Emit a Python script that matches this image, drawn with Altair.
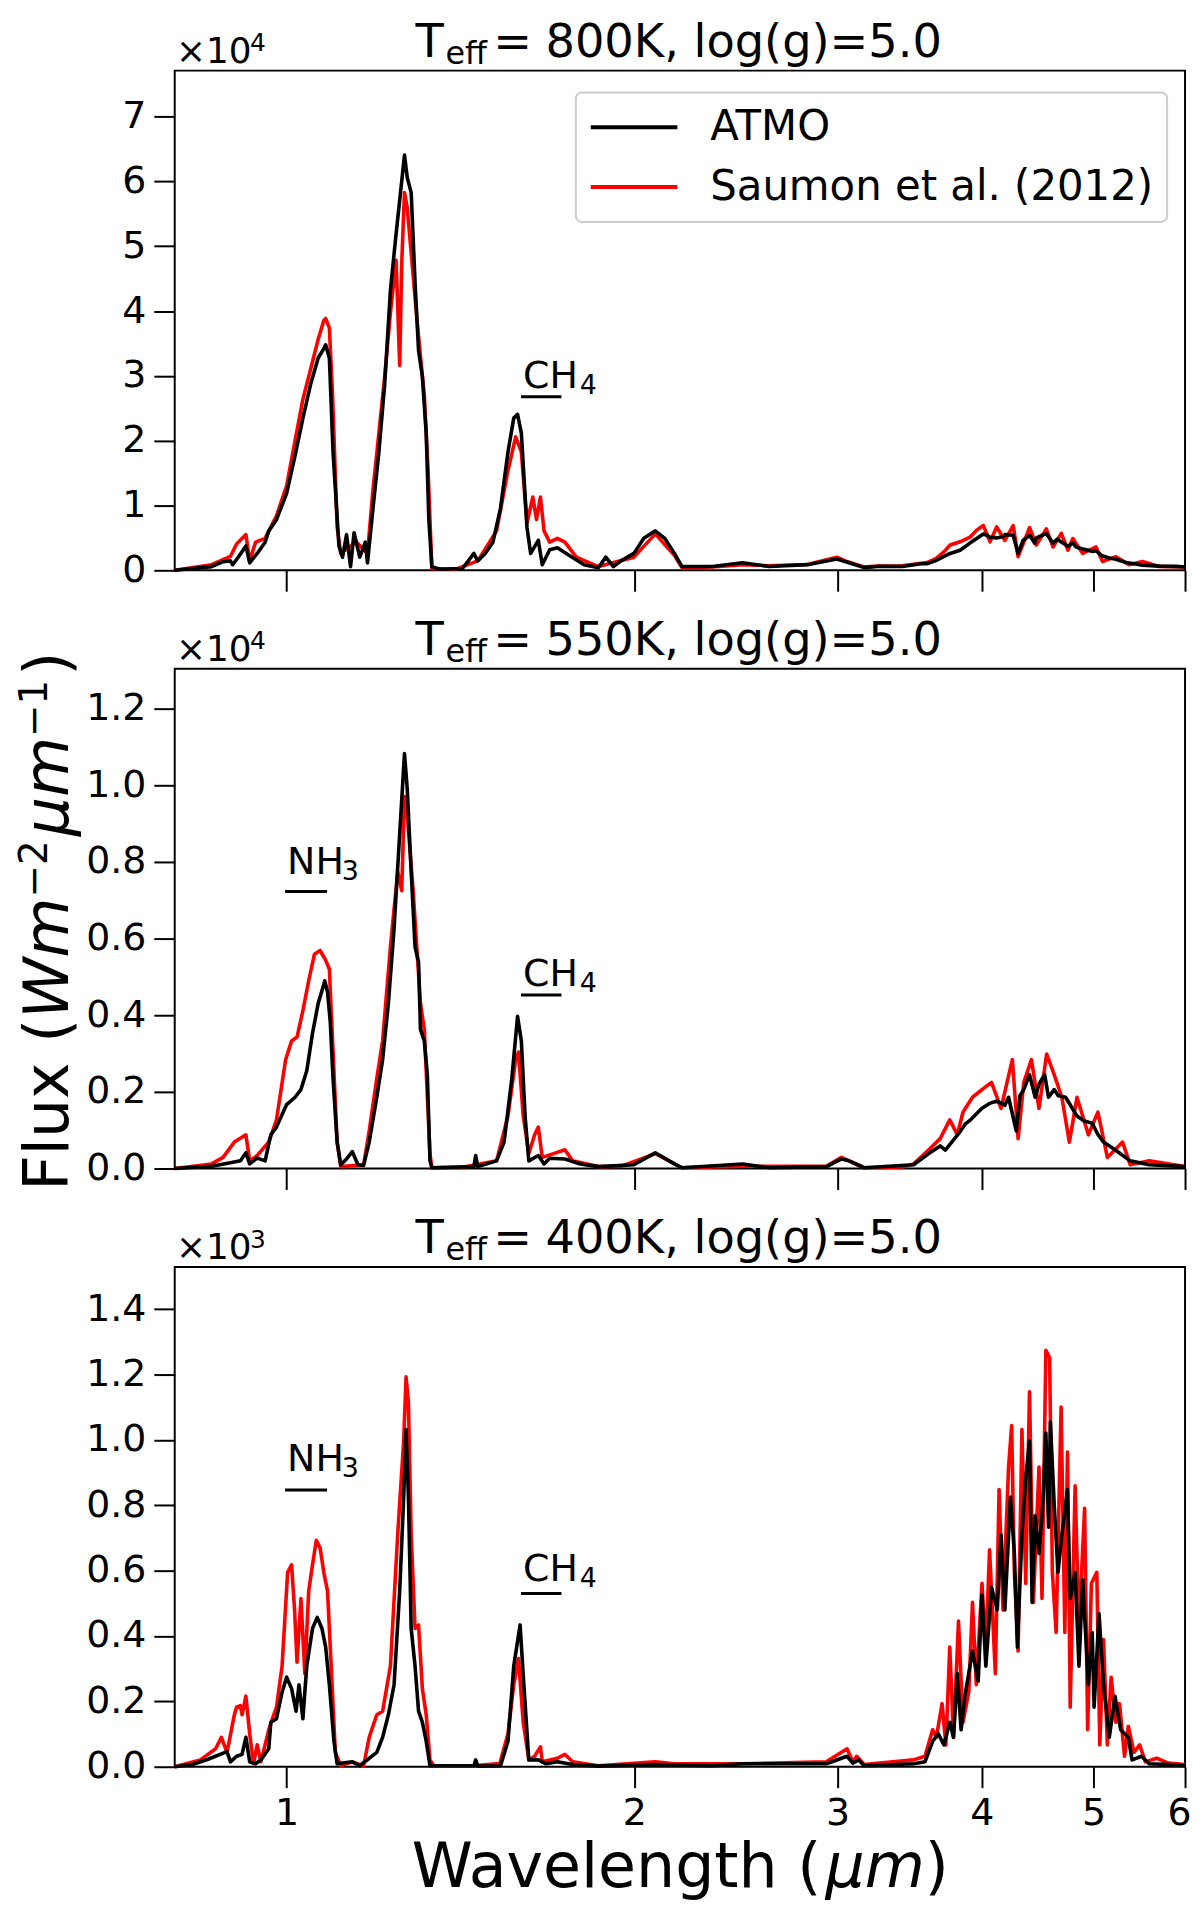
import altair as alt
import pandas as pd

FONT = "DejaVu Sans"
ATMO = "ATMO"
SAUMON = "Saumon et al. (2012)"
WAVE_TICKS = [1, 2, 3, 4, 5, 6]

# (wavelength in micron, flux in W m^-2 micron^-1)
ATMO_800 = [(0.800,0),(0.861,570),(0.881,1330),(0.894,1450),(0.898,860),(0.908,2020),(0.922,3760),(0.929,1150),(0.943,2600),(0.958,4340),(0.965,6080),(0.980,7820),(1.000,11880),(1.017,17680),(1.033,23480),(1.049,28700),(1.065,32760),(1.077,34210),(1.081,34790),(1.089,32760),(1.097,18260),(1.110,3760),(1.118,2020),(1.127,5500),(1.136,570),(1.144,5790),(1.157,2020),(1.170,4340),(1.175,1150),(1.188,9560),(1.202,18260),(1.216,28700),(1.230,43200),(1.244,51890),(1.258,60010),(1.265,64070),(1.272,60590),(1.282,58270),(1.292,44360),(1.301,33920),(1.311,29860),(1.321,21160),(1.328,7820),(1.336,570),(1.357,170),(1.420,280),(1.453,2600),(1.464,1440),(1.486,2600),(1.509,4340),(1.532,9560),(1.555,18260),(1.573,23480),(1.585,24060),(1.597,21160),(1.615,6660),(1.627,2600),(1.652,4630),(1.665,860),(1.690,3180),(1.716,3470),(1.756,2310),(1.810,860),(1.862,400),(1.890,2030),(1.919,580),(1.948,1450),(1.999,2610),(2.039,4930),(2.086,6090),(2.126,4930),(2.167,2610),(2.200,580),(2.337,580),(2.483,1160),(2.618,580),(2.825,870),(2.996,1740),(3.070,1160),(3.164,410),(3.247,600),(3.414,580),(3.545,1000),(3.585,1000),(3.650,1500),(3.707,2100),(3.756,2600),(3.831,3100),(3.907,4200),(3.960,4900),(4.013,5600),(4.041,5400),(4.067,5100),(4.121,5000),(4.175,5200),(4.189,5500),(4.259,5400),(4.301,2600),(4.344,4600),(4.401,5400),(4.445,4200),(4.460,5000),(4.500,5300),(4.550,5650),(4.611,4200),(4.650,4800),(4.703,4200),(4.750,3700),(4.797,4200),(4.829,3600),(4.893,3300),(4.950,3100),(4.992,2900),(5.024,3000),(5.090,2200),(5.160,1900),(5.228,1700),(5.333,1200),(5.420,1000),(5.512,800),(5.696,650),(5.888,600),(6.000,500)]
SAUMON_800 = [(0.800,0),(0.861,870),(0.894,2140),(0.905,4060),(0.922,5510),(0.929,1450),(0.940,4350),(0.958,4930),(0.980,8410),(1.000,13050),(1.017,20000),(1.033,26380),(1.049,31020),(1.065,35660),(1.077,38560),(1.081,38850),(1.089,37400),(1.096,26960),(1.106,6670),(1.114,2610),(1.149,4350),(1.175,2610),(1.188,12470),(1.202,21170),(1.216,29860),(1.230,39720),(1.244,47840),(1.253,31600),(1.258,47260),(1.265,58280),(1.272,55960),(1.282,49000),(1.297,38560),(1.316,26960),(1.326,15370),(1.336,290),(1.400,150),(1.464,1450),(1.520,6090),(1.555,15370),(1.579,20590),(1.597,18270),(1.615,7250),(1.634,11310),(1.646,7830),(1.659,11310),(1.671,6090),(1.690,4350),(1.716,4930),(1.742,4350),(1.782,2030),(1.862,580),(1.999,2030),(2.086,5620),(2.167,2320),(2.200,410),(2.337,500),(2.483,870),(2.618,700),(2.825,900),(2.996,2030),(3.047,1450),(3.164,500),(3.247,650),(3.414,700),(3.585,1200),(3.650,1800),(3.707,2800),(3.756,3900),(3.831,4400),(3.907,5100),(3.960,6200),(4.013,6900),(4.067,4400),(4.121,6700),(4.189,4600),(4.259,6900),(4.301,2100),(4.401,6600),(4.460,3900),(4.550,6400),(4.611,3600),(4.688,5700),(4.750,3100),(4.797,4900),(4.893,2600),(5.024,3600),(5.090,1350),(5.228,2100),(5.368,850),(5.512,1350),(5.696,600),(6.000,500)]

ATMO_550 = [(0.800,0),(0.861,60),(0.894,150),(0.912,200),(0.922,410),(0.929,120),(0.943,270),(0.958,200),(0.969,880),(0.980,1080),(1.000,1670),(1.017,1860),(1.029,2060),(1.041,2550),(1.053,3530),(1.065,4310),(1.077,4800),(1.079,4900),(1.085,4610),(1.091,3820),(1.097,2350),(1.106,690),(1.114,100),(1.127,250),(1.140,440),(1.153,100),(1.166,80),(1.179,690),(1.197,1860),(1.211,2840),(1.225,4310),(1.239,6270),(1.253,8730),(1.265,10830),(1.272,9900),(1.282,7750),(1.292,5780),(1.301,5390),(1.306,3630),(1.316,3330),(1.324,2450),(1.331,200),(1.336,20),(1.453,50),(1.458,340),(1.464,50),(1.520,200),(1.543,690),(1.567,2350),(1.585,3970),(1.597,3330),(1.609,1370),(1.621,200),(1.652,340),(1.671,120),(1.690,270),(1.742,250),(1.796,120),(1.862,50),(1.999,100),(2.086,410),(2.167,120),(2.200,20),(2.483,120),(2.618,20),(2.934,50),(3.024,250),(3.070,200),(3.164,20),(3.492,100),(3.599,390),(3.682,590),(3.720,480),(3.824,930),(3.868,1150),(3.912,1270),(4.002,1570),(4.063,1700),(4.126,1760),(4.189,1650),(4.220,1860),(4.285,980),(4.317,1900),(4.350,2060),(4.400,2450),(4.450,1860),(4.484,2200),(4.535,2450),(4.570,1860),(4.622,2060),(4.660,1900),(4.728,1860),(4.837,1370),(4.900,1250),(4.986,1180),(5.040,900),(5.100,690),(5.218,490),(5.378,200),(5.586,100),(6.000,50)]
SAUMON_550 = [(0.800,0),(0.861,120),(0.881,290),(0.901,690),(0.922,880),(0.929,200),(0.943,340),(0.965,690),(0.980,1270),(0.998,2840),(1.010,3330),(1.021,3430),(1.033,4120),(1.045,4900),(1.057,5590),(1.069,5690),(1.081,5440),(1.089,5200),(1.096,3330),(1.106,690),(1.114,50),(1.166,100),(1.179,980),(1.197,2350),(1.211,3330),(1.230,5780),(1.248,7750),(1.258,7250),(1.265,9710),(1.272,9220),(1.287,7250),(1.306,4310),(1.316,3630),(1.331,390),(1.336,20),(1.420,30),(1.520,200),(1.555,1370),(1.579,2840),(1.588,3040),(1.603,1370),(1.621,390),(1.640,880),(1.652,1080),(1.665,290),(1.703,390),(1.742,490),(1.769,200),(1.862,50),(1.950,60),(2.086,390),(2.200,20),(2.483,60),(2.934,60),(3.024,290),(3.164,20),(3.414,40),(3.492,120),(3.599,490),(3.682,780),(3.753,1270),(3.810,880),(3.853,1470),(3.927,1860),(4.002,2060),(4.079,2250),(4.157,1570),(4.252,2840),(4.301,780),(4.350,2250),(4.417,2840),(4.484,1570),(4.553,2990),(4.622,2450),(4.693,1860),(4.764,690),(4.837,1860),(4.948,880),(5.043,1470),(5.139,290),(5.297,690),(5.378,100),(5.586,200),(6.000,50)]

ATMO_400 = [(0.800,0),(0.829,7),(0.855,23),(0.888,46),(0.894,15),(0.905,32),(0.915,38),(0.922,90),(0.929,15),(0.940,9),(0.950,21),(0.965,55),(0.969,136),(0.980,147),(0.991,228),(1.000,274),(1.010,239),(1.019,170),(1.025,251),(1.033,147),(1.041,308),(1.053,423),(1.063,457),(1.073,423),(1.081,366),(1.089,251),(1.099,78),(1.106,9),(1.140,15),(1.157,3),(1.197,44),(1.211,90),(1.225,159),(1.239,251),(1.253,538),(1.263,825),(1.269,1032),(1.275,825),(1.282,423),(1.292,308),(1.301,170),(1.311,136),(1.321,78),(1.331,3),(1.453,3),(1.458,21),(1.464,2),(1.532,3),(1.555,78),(1.573,308),(1.593,434),(1.605,251),(1.621,21),(1.652,21),(1.678,9),(1.716,15),(1.769,7),(1.862,2),(2.086,7),(2.337,3),(2.483,9),(2.934,9),(3.024,26),(3.058,32),(3.093,11),(3.129,21),(3.164,3),(3.492,9),(3.572,15),(3.627,78),(3.668,101),(3.710,67),(3.753,136),(3.781,90),(3.810,285),(3.839,113),(3.868,216),(3.927,354),(3.972,262),(4.002,526),(4.033,308),(4.079,549),(4.126,480),(4.157,710),(4.189,480),(4.236,825),(4.269,653),(4.295,366),(4.334,710),(4.367,883),(4.400,998),(4.423,503),(4.450,768),(4.484,653),(4.518,802),(4.546,1021),(4.570,733),(4.587,1055),(4.622,802),(4.657,595),(4.693,710),(4.746,848),(4.772,515),(4.819,595),(4.856,308),(4.892,572),(4.948,251),(4.986,411),(5.005,182),(5.054,469),(5.100,251),(5.159,90),(5.218,216),(5.277,113),(5.358,90),(5.399,21),(5.502,32),(5.586,9),(5.802,7),(6.000,3)]
SAUMON_400 = [(0.800,0),(0.842,21),(0.868,55),(0.878,90),(0.888,44),(0.901,159),(0.905,182),(0.912,187),(0.915,159),(0.922,216),(0.929,101),(0.936,9),(0.943,67),(0.950,15),(0.965,113),(0.972,147),(0.980,182),(0.991,308),(1.002,595),(1.010,618),(1.016,480),(1.021,320),(1.029,515),(1.037,285),(1.045,538),(1.053,618),(1.061,693),(1.069,670),(1.077,595),(1.085,538),(1.093,308),(1.102,44),(1.114,3),(1.140,15),(1.166,3),(1.179,90),(1.197,159),(1.211,170),(1.230,308),(1.248,710),(1.263,998),(1.269,1193),(1.275,1113),(1.282,710),(1.292,423),(1.301,434),(1.311,239),(1.321,159),(1.331,21),(1.342,2),(1.450,3),(1.530,10),(1.555,101),(1.573,251),(1.588,331),(1.603,136),(1.621,21),(1.640,32),(1.659,61),(1.665,15),(1.716,26),(1.742,38),(1.769,15),(1.862,3),(2.086,15),(2.167,9),(2.483,9),(2.934,15),(3.058,55),(3.093,15),(3.117,32),(3.164,7),(3.492,21),(3.572,32),(3.627,113),(3.654,90),(3.696,193),(3.724,67),(3.753,366),(3.781,90),(3.819,446),(3.853,136),(3.898,228),(3.927,503),(3.957,251),(4.002,561),(4.033,366),(4.063,664),(4.110,285),(4.141,848),(4.173,480),(4.220,917),(4.246,1044),(4.269,595),(4.301,354),(4.334,1032),(4.367,561),(4.400,1147),(4.434,503),(4.484,917),(4.511,515),(4.546,1274),(4.580,1251),(4.605,595),(4.640,411),(4.686,1101),(4.721,411),(4.746,963),(4.772,182),(4.819,860),(4.856,423),(4.911,791),(4.941,113),(4.978,561),(5.032,595),(5.062,67),(5.100,389),(5.139,67),(5.178,274),(5.226,136),(5.265,193),(5.318,32),(5.358,124),(5.419,44),(5.481,67),(5.544,15),(5.671,26),(5.802,11),(6.000,7)]

# band labels: (text, subscript, start micron, end micron, bar flux, label flux)
NOTES_800 = [("CH", "4", 1.596, 1.730, 26770, 28120)]
NOTES_550 = [("NH", "3", 0.997, 1.084, 7230, 7690), ("CH", "4", 1.596, 1.730, 4530, 4755)]
NOTES_400 = [("NH", "3", 0.997, 1.084, 847, 906), ("CH", "4", 1.596, 1.730, 530, 567)]

PANELS = [
    {"teff": "800", "power": 4, "ymax": 7.71, "ticks": [0, 1, 2, 3, 4, 5, 6, 7], "fmt": "d",
     "atmo": ATMO_800, "saumon": SAUMON_800, "notes": NOTES_800},
    {"teff": "550", "power": 4, "ymax": 1.304, "ticks": [0, 0.2, 0.4, 0.6, 0.8, 1.0, 1.2], "fmt": ".1f",
     "atmo": ATMO_550, "saumon": SAUMON_550, "notes": NOTES_550},
    {"teff": "400", "power": 3, "ymax": 1.529, "ticks": [0, 0.2, 0.4, 0.6, 0.8, 1.0, 1.2, 1.4], "fmt": ".1f",
     "atmo": ATMO_400, "saumon": SAUMON_400, "notes": NOTES_400},
]

W, H, GAP = 1015, 502, 99
NOTE_DX = {"NH": (2, 57), "CH": (2, 59)}


def ptext(s, x, y, size, style="normal", angle=0):
    return alt.Chart(alt.Data(values=[{"s": s}])).mark_text(
        align="left", baseline="alphabetic", font=FONT, fontSize=size,
        fontStyle=style, angle=angle, color="black"
    ).encode(x=alt.value(x), y=alt.value(y), text="s:N")


def make_panel(i, p):
    unit = 10 ** p["power"]
    df_a = pd.DataFrame(p["atmo"], columns=["wl", "flux"])
    df_a["model"] = ATMO
    df_s = pd.DataFrame(p["saumon"], columns=["wl", "flux"])
    df_s["model"] = SAUMON
    for d in (df_a, df_s):
        d["y"] = d["flux"] / unit

    xax = alt.Axis(values=WAVE_TICKS, format="d", labels=(i == 2), title=None,
                   tickSize=21, tickWidth=2, tickColor="black", domain=False, grid=False,
                   labelFont=FONT, labelFontSize=38, labelColor="black", labelPadding=7,
                   labelFlush=True, labelFlushOffset=6, labelOverlap=False)
    yax = alt.Axis(values=p["ticks"], format=p["fmt"], title=None,
                   tickSize=21, tickWidth=2, tickColor="black", domain=False, grid=False,
                   labelFont=FONT, labelFontSize=38, labelColor="black", labelPadding=8,
                   labelFlush=False, labelOverlap=False)
    X = alt.X("wl:Q", scale=alt.Scale(type="log", domain=[0.8, 6], nice=False), axis=xax)
    Y = alt.Y("y:Q", scale=alt.Scale(domain=[0, p["ymax"]], nice=False), axis=yax)
    cscale = alt.Scale(domain=[ATMO, SAUMON], range=["#000000", "#ff0000"])
    if i == 0:
        leg = alt.Legend(title=None, orient="none", legendX=403, legendY=22, direction="vertical",
                         symbolType="stroke", symbolSize=7569, symbolStrokeWidth=4,
                         labelFont=FONT, labelFontSize=42, labelColor="black", labelOffset=31,
                         labelLimit=0, padding=13, rowPadding=16, clipHeight=44,
                         strokeColor="#cccccc", fillColor="white", cornerRadius=6)
    else:
        leg = None
    C = alt.Color("model:N", scale=cscale, legend=leg)

    layers = []
    for d in (df_s, df_a):
        layers.append(alt.Chart(d).mark_line(strokeWidth=3.6, strokeJoin="round").encode(x=X, y=Y, color=C))

    for main, sub, w0, w1, fbar, ftext in p["notes"]:
        dx_main, dx_sub = NOTE_DX[main]
        layers.append(alt.Chart(alt.Data(values=[{"wl": w0, "wl2": w1, "y": fbar / unit}]))
                      .mark_rule(strokeWidth=3, color="black").encode(x=X, x2="wl2:Q", y=Y))
        layers.append(alt.Chart(alt.Data(values=[{"wl": w0, "y": ftext / unit, "s": main}]))
                      .mark_text(align="left", baseline="alphabetic", dx=dx_main, font=FONT,
                                 fontSize=38, color="black").encode(x=X, y=Y, text="s:N"))
        layers.append(alt.Chart(alt.Data(values=[{"wl": w0, "y": ftext / unit, "s": sub}]))
                      .mark_text(align="left", baseline="alphabetic", dx=dx_sub, dy=6, font=FONT,
                                 fontSize=27, color="black").encode(x=X, y=Y, text="s:N"))

    # panel title  T_eff = ...K, log(g)=5.0  and the axis multiplier
    layers += [
        ptext("T", 242, -14, 46.5),
        ptext("eff", 272, -7, 32),
        ptext("=", 320, -14, 46.5),
        ptext(p["teff"] + "K, log(g)=5.0", 372.5, -14, 46.5),
        ptext("\u00d710", 1.3, -8, 36),
        ptext(str(p["power"]), 75.5, -19.5, 25),
    ]

    if i == 1:
        c = H / 2
        layers += [
            ptext("Flux (", -107, c + 273.3, 62, angle=270),
            ptext("Wm", -107, c + 100.5, 62, style="italic", angle=270),
            ptext("\u22122", -128.5, c - 21.2, 39, angle=270),
            ptext("\u03bcm", -107, c - 82.7, 62, style="italic", angle=270),
            ptext("\u22121", -128.5, c - 182.5, 39, angle=270),
            ptext(")", -107, c - 244, 62, angle=270),
        ]
    if i == 2:
        yb = H + 121
        layers += [
            ptext("Wavelength (", 238, yb, 62),
            ptext("\u03bcm", 653.7, yb, 62, style="italic"),
            ptext(")", 753.5, yb, 62),
        ]

    return alt.layer(*layers).properties(width=W, height=H)


panels = [make_panel(i, p) for i, p in enumerate(PANELS)]

chart = (
    alt.vconcat(*panels, spacing=GAP, bounds="flush",
                padding={"left": 6.5, "top": 6.5, "right": 0, "bottom": 3})
    .resolve_scale(x="independent", y="independent", color="independent")
    .configure(font=FONT)
    .configure_view(stroke="black", strokeWidth=2)
    .configure_legend(strokeWidth=2)
)

chart.save("out.html", embed_options={"renderer": "svg", "actions": False})
